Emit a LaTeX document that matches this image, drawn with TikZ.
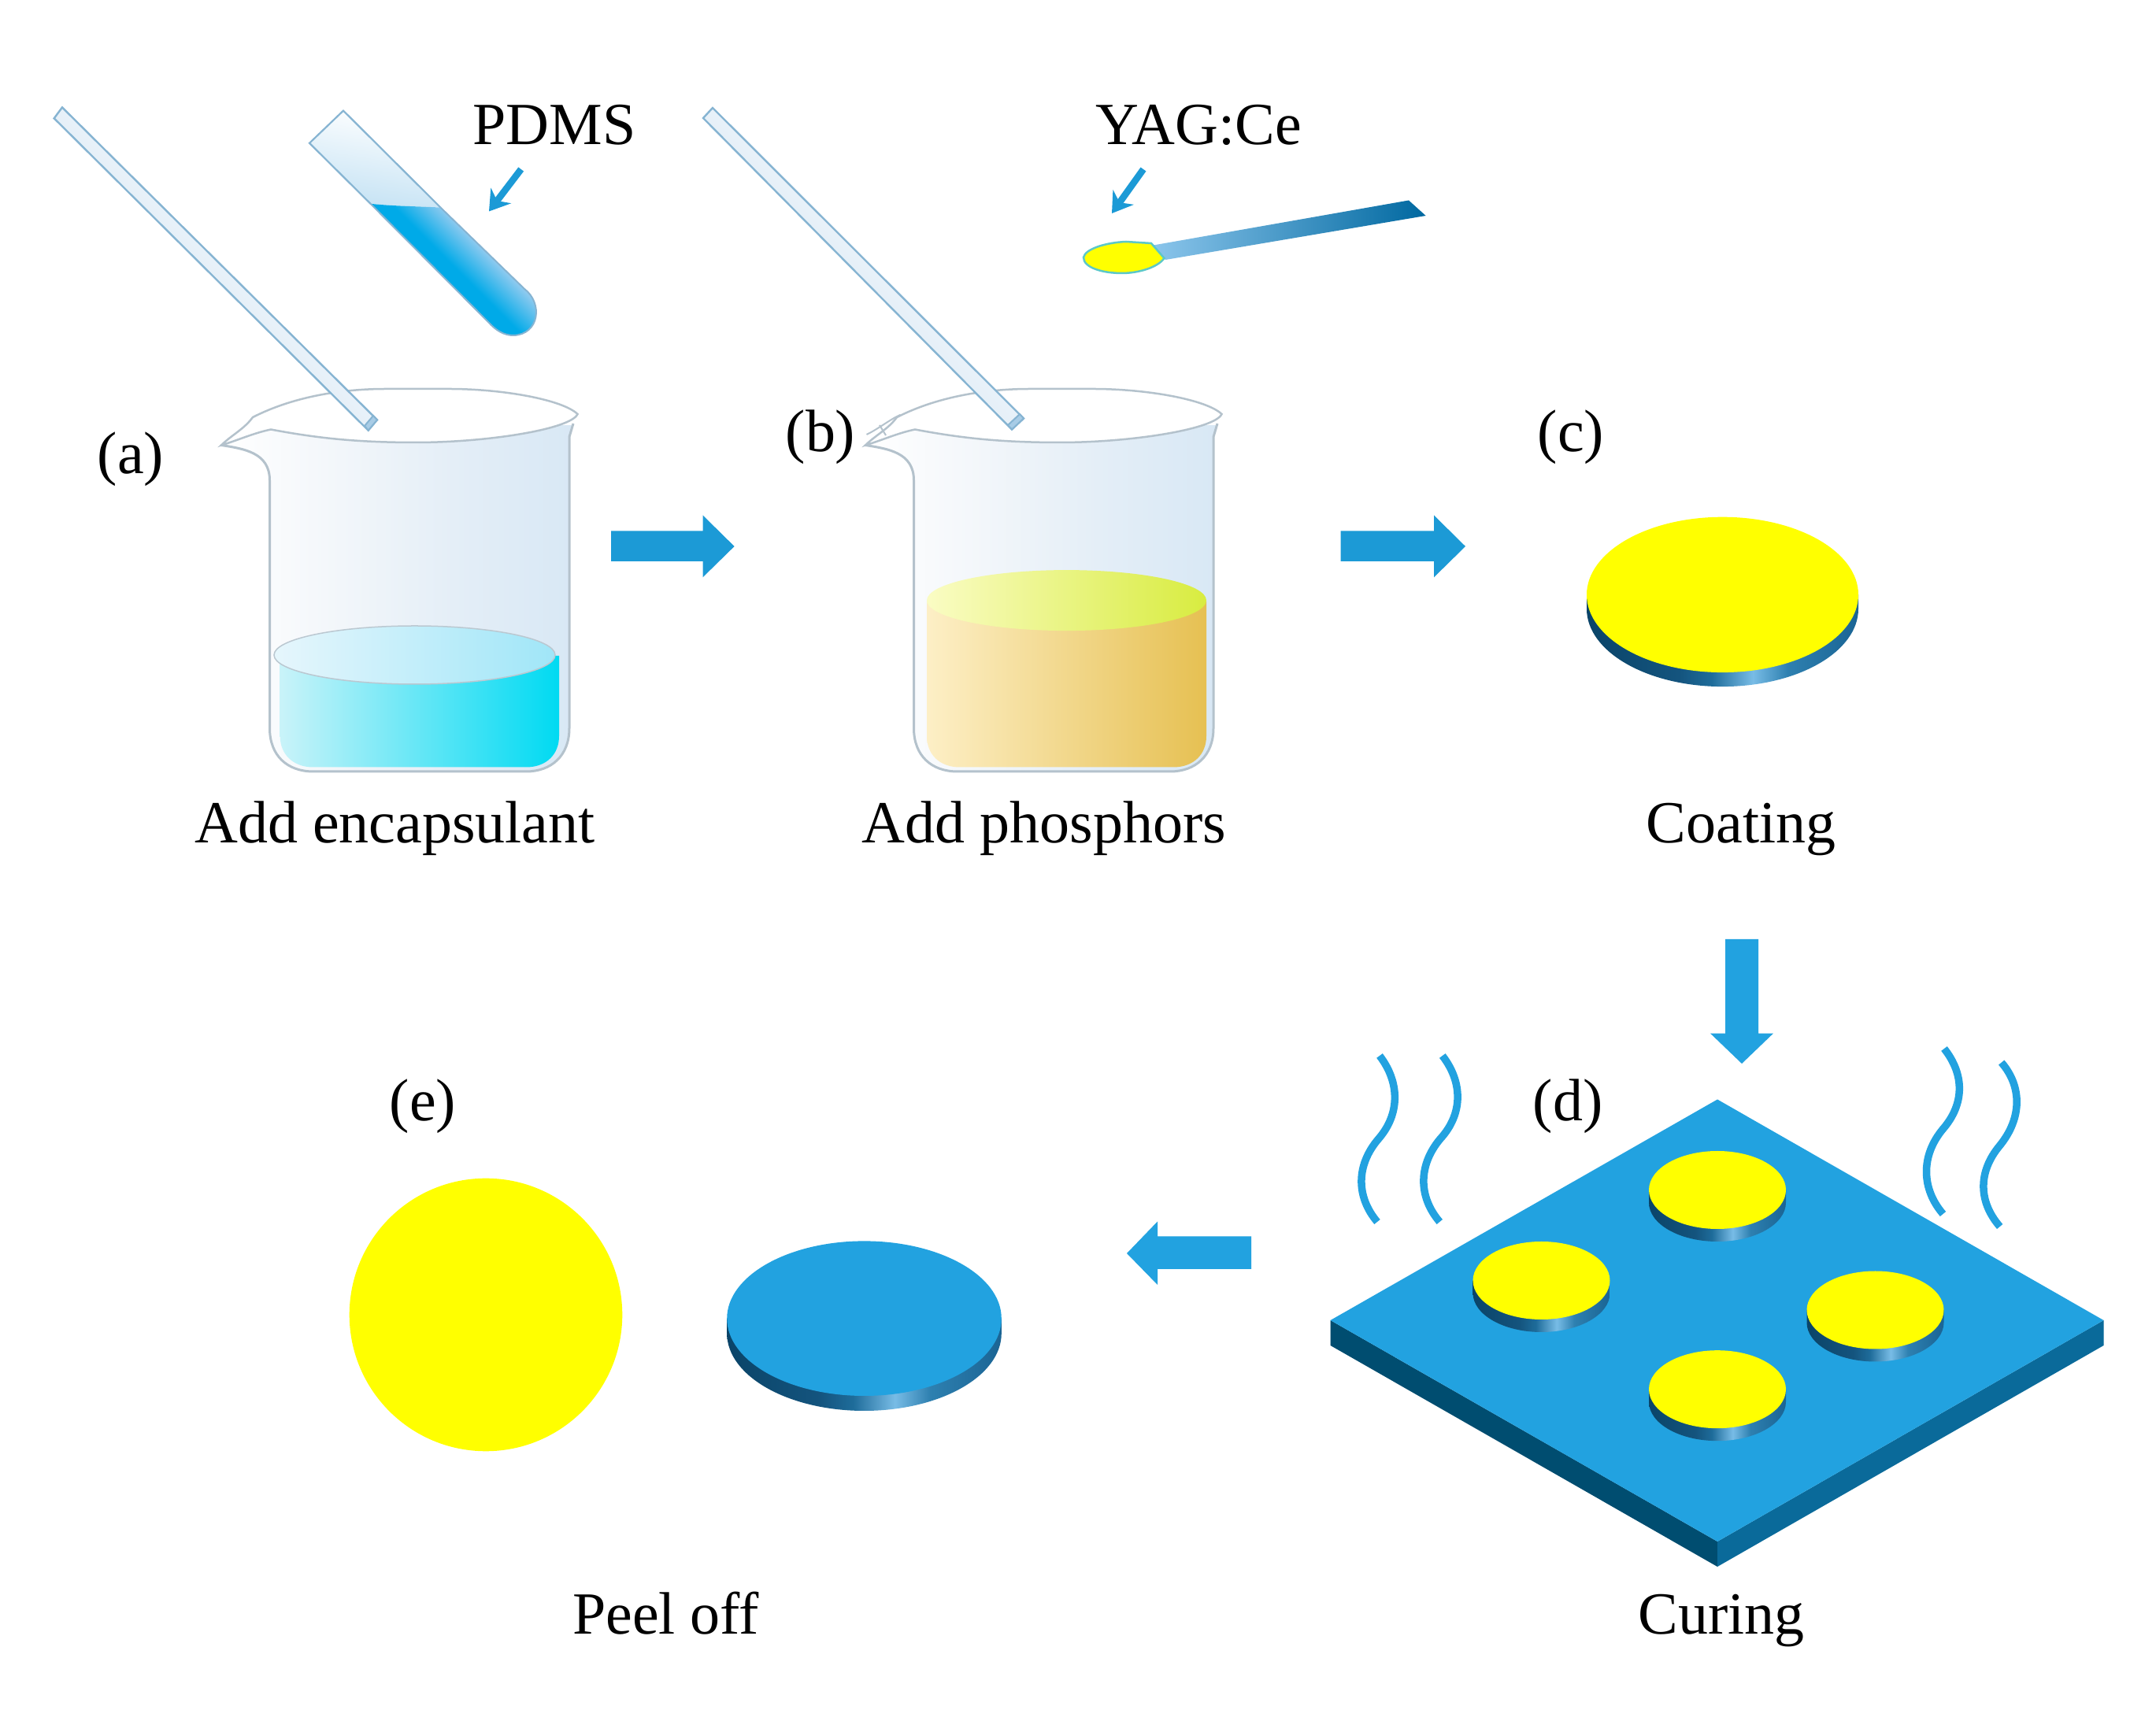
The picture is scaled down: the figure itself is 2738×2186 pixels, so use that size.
\documentclass[tikz,border=0pt]{standalone}
\usepackage{fontspec}
\setmainfont{Liberation Serif}
\usetikzlibrary{arrows.meta}
\definecolor{blk}{HTML}{1C9AD6}
\definecolor{plat}{HTML}{22A2E0}
\definecolor{platL}{HTML}{004D70}
\definecolor{platR}{HTML}{0A6A9A}
\definecolor{glass}{HTML}{B4C2CC}
\definecolor{rodline}{HTML}{86B4D2}
\definecolor{pureyellow}{HTML}{FFFF00}
\definecolor{dsA}{HTML}{0A4468}
\definecolor{dsB}{HTML}{14547E}
\definecolor{dsC}{HTML}{1E6C9A}
\definecolor{dsD}{HTML}{78BCE6}
\definecolor{dsE}{HTML}{2E80B0}
\definecolor{dsF}{HTML}{1A6494}
\definecolor{gA}{HTML}{FFFFFF}
\definecolor{gB}{HTML}{F2F6FA}
\definecolor{gC}{HTML}{E4EEF7}
\definecolor{gD}{HTML}{D8E8F5}
\definecolor{ttA}{HTML}{00AAE8}
\definecolor{ttB}{HTML}{9CCDF0}
\definecolor{ttE}{HTML}{C4E2F4}
\pgfdeclarehorizontalshading{discside}{100bp}{color(0bp)=(dsA); color(25bp)=(dsA); color(42bp)=(dsB); color(48bp)=(dsC); color(55.6bp)=(dsD); color(62bp)=(dsE); color(75bp)=(dsF); color(100bp)=(dsF)}
\pgfdeclarehorizontalshading{glassbody}{100bp}{color(0bp)=(gA); color(25bp)=(gA); color(42bp)=(gB); color(58bp)=(gC); color(75bp)=(gD); color(100bp)=(gD)}
\pgfdeclareverticalshading{tubeliquid}{100bp}{color(0bp)=(ttB); color(38bp)=(ttB); color(47bp)=(ttA!75!ttB); color(50bp)=(ttA); color(100bp)=(ttA)}
\definecolor{HTMLwhite}{HTML}{FFFFFF}
\definecolor{rodfill}{HTML}{CFE2F2}
\definecolor{rodend}{HTML}{A8CCE6}
\tikzset{
 lbl/.style={font=\fontsize{21.6}{24}\selectfont, inner sep=0pt, anchor=base, text=black},
 blockarrow/.style={fill=blk, draw=none},
 smallarrow/.style={draw=blk, line width=0.085cm, -{Stealth[length=0.25cm,width=0.32cm]}},
 heat/.style={draw=plat, line width=0.095cm},
 rod/.style={draw=rodline, line width=0.024cm, top color=HTMLwhite, bottom color=rodfill, shading angle=-45}
}
\newcommand\discdraw[6]{%
 \shade[shading=discside] ({#1-#3},#2) -- ({#1-#3},{#2+#5}) arc[start angle=180,end angle=0,x radius=#3,y radius=#4] -- ({#1+#3},#2) -- cycle;
 \fill[#6] (#1,#2) ellipse [x radius=#3,y radius=#4];
}
\newcommand\beaker[1]{%
 \begin{scope}[shift={(#1,0)}]
 \shade[shading=glassbody] (281,565.5) .. controls (310,570) and (342.5,575) .. (342.5,610) -- (342.5,925) .. controls (342.5,960) and (365,980) .. (398,980) -- (668,980) .. controls (700,980) and (723,960) .. (723,925) -- (723,555) -- (728,540) -- (344,545) -- cycle;
 \end{scope}
}
\newcommand\beakeroutline[1]{%
 \begin{scope}[shift={(#1,0)}]
 \draw[glass, line width=0.03cm] (281,565.5) .. controls (310,570) and (342.5,575) .. (342.5,610) -- (342.5,925) .. controls (342.5,960) and (365,980) .. (398,980) -- (668,980) .. controls (700,980) and (723,960) .. (723,925) -- (723,555) -- (728,538);
 \filldraw[fill=white, draw=glass, line width=0.025cm] (281,565.5) .. controls (295,552) and (310,545) .. (321,530) .. controls (370,505) and (430,494) .. (490,494) -- (570,494) .. controls (640,494) and (715,508) .. (733.5,526) .. controls (725,545) and (620,562) .. (528,562) .. controls (450,562) and (400,556) .. (344,545.5) .. controls (322,550) and (300,560) .. (281,565.5) -- cycle;
 \end{scope}
}
\definecolor{laL}{HTML}{C9F3F9}
\definecolor{laR}{HTML}{00DAF2}
\definecolor{saL}{HTML}{E6F6FC}
\definecolor{saR}{HTML}{A0E6F8}
\definecolor{lbL}{HTML}{FDEFC6}
\definecolor{lbR}{HTML}{E6C052}
\definecolor{sbL}{HTML}{FAFCC4}
\definecolor{sbR}{HTML}{D8EC40}
\definecolor{spL}{HTML}{8CC6EC}
\definecolor{spR}{HTML}{0068A0}
\definecolor{bowl}{HTML}{5CC8C8}
\begin{document}
\begin{tikzpicture}[x=0.01cm,y=-0.01cm]
\useasboundingbox (0,0) rectangle (2738,2186);
\fill[white] (0,0) rectangle (2738,2186);

% --- beaker a
\beaker{0}
\shade[left color=laL, right color=laR] (355.7,832) -- (355.7,935) .. controls (355.7,958) and (372,974.5) .. (398,974.5) -- (668,974.5) .. controls (694,974.5) and (710,958) .. (710,935) -- (710,833) -- cycle;
\shade[left color=saL, right color=saR] (526.5,832) ellipse [x radius=178.5,y radius=37];
\draw[glass!90!white, line width=0.015cm] (526.5,832) ellipse [x radius=178.5,y radius=37];
\beakeroutline{0}
% rod a
\coordinate (ra1) at (68.7,150.3); \coordinate (ra2) at (79,136.4);
\coordinate (ra3) at (479,533.3); \coordinate (ra4) at (467.7,546.7);
\path[rod] (ra1) -- (ra2) -- (ra3) -- (ra4) -- cycle;
\filldraw[fill=rodend, draw=rodline, line width=0.02cm] (ra3) -- (ra4) -- (463,541) -- (474,528) -- cycle;

% --- test tube
\shade[top color=HTMLwhite, bottom color=ttE, shading angle=-10] (393,181.8) -- (436,140.6) -- (559.5,263.6) .. controls (530,262) and (500,262) .. (470.5,258.8) -- cycle;
\shade[shading=tubeliquid, shading angle=135] (470.5,258.8) .. controls (500,262) and (530,262) .. (559.5,263.6) -- (665.7,366.7) .. controls (690,385) and (685,425) .. (652,426) .. controls (640,426) and (630,420) .. (620,409) -- cycle;
\draw[rodline, line width=0.022cm] (470.5,258.8) -- (393,181.8) -- (436,140.6) -- (559.5,263.6);
\draw[rodline, line width=0.02cm] (559.5,263.6) -- (665.7,366.7) .. controls (690,385) and (685,425) .. (652,426) .. controls (640,426) and (630,420) .. (620,409) -- (470.5,258.8);

\node[lbl] (pdms) at (704,184) {PDMS};
\coordinate (pa1) at (661.7,215); \coordinate (pa2) at (621,268.5);
\draw[smallarrow] (pa1) -- (pa2);
\node[lbl] (la) at (166,602) {(a)};

% block arrow a->b
\path[blockarrow] (776,674.5) -- (892.5,674.5) -- (892.5,654.5) -- (932.6,694) -- (892.5,733.3) -- (892.5,713) -- (776,713) -- cycle;

% --- beaker b
\beaker{818}
\shade[left color=lbL, right color=lbR] (1177,763) -- (1177,935) .. controls (1177,958) and (1193,974.5) .. (1219,974.5) -- (1490,974.5) .. controls (1516,974.5) and (1532,958) .. (1532,935) -- (1532,763.6) -- cycle;
\shade[left color=sbL, right color=sbR] (1354.5,762.6) ellipse [x radius=177.5,y radius=38.5];
\beakeroutline{818}
\draw[glass, line width=0.02cm] (1100.5,552) .. controls (1115,545) and (1130,533) .. (1143,527);
\draw[glass, line width=0.02cm] (1117,540) -- (1125,553);
% rod b
\coordinate (rb1) at (893,150); \coordinate (rb2) at (905,137);
\coordinate (rb3) at (1300,531.5); \coordinate (rb4) at (1285,545.5);
\path[rod] (rb1) -- (rb2) -- (rb3) -- (rb4) -- cycle;
\filldraw[fill=rodend, draw=rodline, line width=0.02cm] (rb3) -- (rb4) -- (1280,540) -- (1295,526) -- cycle;
\node[lbl] (lb) at (1042,574) {(b)};

% --- spoon
\shade[left color=spL, right color=spR] (1462,312) -- (1789,254.5) -- (1810.6,274) -- (1480,330) -- cycle;
\filldraw[fill=pureyellow, draw=bowl, line width=0.025cm] (1376,327) .. controls (1378,316) and (1405,308) .. (1430,307) -- (1462,309) -- (1478.5,328) .. controls (1470,340) and (1445,347) .. (1425,347) .. controls (1400,347) and (1376,340) .. (1376,327) -- cycle;
\node[lbl] (yag) at (1522,184) {YAG:Ce};
\coordinate (ya1) at (1452,215); \coordinate (ya2) at (1412,271);
\draw[smallarrow] (ya1) -- (ya2);

% block arrow b->c
\path[blockarrow] (1702.7,674.5) -- (1821,674.5) -- (1821,654.5) -- (1861,694) -- (1821,733.3) -- (1821,713) -- (1702.7,713) -- cycle;

% --- disc c
\node[lbl] (lc) at (1995,574) {(c)};
\discdraw{2187.5}{755.4}{172.5}{98.7}{18}{pureyellow}

% captions
\node[lbl] (c1) at (501.5,1071) {Add encapsulant};
\node[lbl] (c2) at (1326,1071) {Add phosphors};
\node[lbl] (c3) at (2211,1071) {Coating};
\node[lbl] (c4) at (2186,2076) {Curing};
\node[lbl] (c5) at (845.6,2076) {Peel off};

% down arrow
\path[blockarrow, fill=plat] (2191,1193) -- (2233,1193) -- (2233,1312.6) -- (2252,1312.6) -- (2212,1351) -- (2172,1312.6) -- (2191,1312.6) -- cycle;

% --- platform
\fill[platL] (1689.6,1677) -- (2181,1958) -- (2181,1990) -- (1689.6,1709) -- cycle;
\fill[platR] (2671.5,1677) -- (2181,1958) -- (2181,1990) -- (2671.5,1709) -- cycle;
\fill[plat] (2181,1396.5) -- (2671.5,1677) -- (2181,1958) -- (1689.6,1677) -- cycle;
\discdraw{2181}{1511.5}{87}{49.5}{16}{pureyellow}
\discdraw{1957.5}{1626.5}{87}{49.5}{16}{pureyellow}
\discdraw{2381.5}{1664}{87}{49.5}{16}{pureyellow}
\discdraw{2181}{1764.7}{87}{49.5}{16}{pureyellow}
\node[lbl] (ld) at (1991,1424) {(d)};

% heat waves
\draw[heat] (1752,1341) .. controls (1778,1375) and (1778,1415) .. (1750.6,1446.6) .. controls (1722,1480) and (1722,1520) .. (1749,1552);
\draw[heat] (1831.8,1341) .. controls (1858,1375) and (1858,1415) .. (1829,1446.6) .. controls (1801,1480) and (1801,1520) .. (1828.3,1552);
\draw[heat] (2469,1332) .. controls (2495,1365) and (2495,1402) .. (2467.5,1434) .. controls (2439,1468) and (2440,1510) .. (2467.5,1542);
\draw[heat] (2541.7,1349.6) .. controls (2568,1380) and (2568,1420) .. (2539.7,1455) .. controls (2512,1488) and (2512,1526) .. (2539.7,1558);

% left arrow
\path[blockarrow, fill=plat] (1589,1570.4) -- (1470,1570.4) -- (1470,1551.5) -- (1431,1592) -- (1470,1632) -- (1470,1612) -- (1589,1612) -- cycle;

% --- e
\node[lbl] (le) at (537,1424) {(e)};
\fill[pureyellow] (617,1670) circle [radius=173.3];
\discdraw{1097.5}{1674.7}{174.3}{98.3}{19}{plat}
\end{tikzpicture}
\end{document}
